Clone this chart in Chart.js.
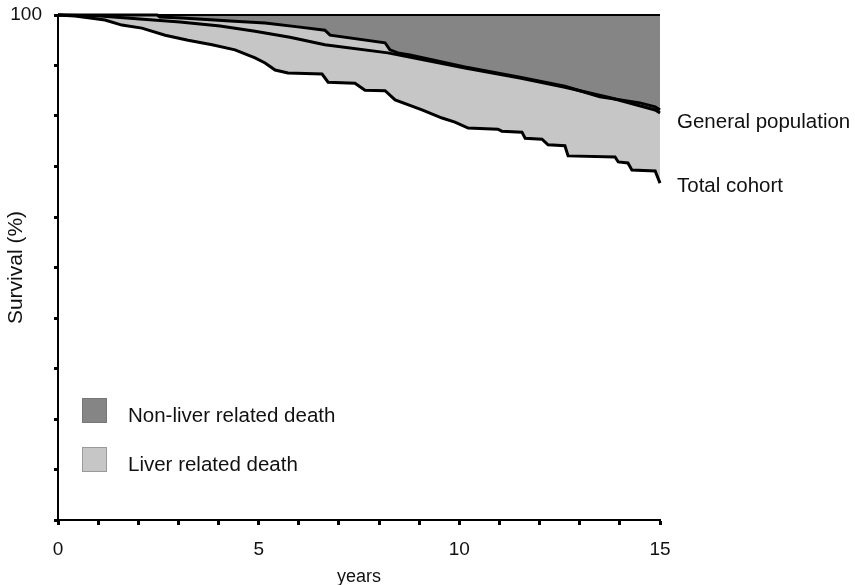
<!DOCTYPE html>
<html lang="en">
<head>
  <meta charset="UTF-8">
  <script src="https://cdn.jsdelivr.net/npm/chart.js@4"></script>
  <title>Survival</title>
  <style>
    html, body { margin: 0; padding: 0; background: #fff; }
    #wrap { width: 855px; height: 585px; }
  </style>
</head>
<body>
  <div id="wrap"><canvas id="chart" width="855" height="585"></canvas></div>
  <script>
    // years since diagnosis / survival (%)
    const nonLiverYears = [0, 2.47, 2.54, 3.09, 4.29, 5.16, 6.03, 6.65, 6.78, 8.15, 8.27, 8.47, 8.77, 10.14, 11.51, 12.63, 13.5, 14.5, 14.88, 15];
    const nonLiverSurv  = [100, 100, 99.6, 99.4, 98.8, 98.4, 97.6, 97.0, 96.0, 94.5, 93.1, 92.5, 92.1, 89.7, 87.7, 85.9, 83.8, 82.6, 81.8, 81.2];

    const genPopYears = [0, 1.05, 2.04, 3.04, 4.04, 4.91, 5.78, 6.65, 8.22, 10.14, 11.51, 12.63, 13.76, 14.88, 15];
    const genPopSurv  = [100, 99.8, 99.2, 98.6, 97.8, 96.8, 95.6, 94.1, 92.5, 89.5, 87.5, 85.7, 83.6, 81.2, 80.6];

    const cohortYears = [0, 0.42, 0.80, 1.17, 1.59, 2.09, 2.67, 3.24, 3.84, 4.41, 4.91, 5.16, 5.41, 5.73, 6.58, 6.73, 7.40, 7.65, 8.15, 8.40,
                         9.07, 9.57, 9.89, 10.22, 10.96, 11.06, 11.56, 11.64, 12.06, 12.21, 12.63, 12.71, 13.88, 13.96, 14.20, 14.30, 14.88, 15];
    const cohortSurv  = [100, 99.8, 99.4, 99.0, 98.0, 97.4, 96.0, 95.0, 94.1, 93.1, 91.5, 90.5, 89.1, 88.5, 88.3, 86.7, 86.5, 85.1, 85.0, 83.2,
                         81.2, 79.6, 78.8, 77.6, 77.4, 77.0, 76.8, 75.6, 75.4, 74.3, 74.1, 72.1, 71.9, 70.9, 70.7, 69.3, 69.1, 66.7];

    const legendItems = ['Non-liver related death', 'Liver related death'];
    const legendColors = ['#858585', '#c6c6c6'];

    const toPoints = (xs, ys) => xs.map((x, i) => ({ x: x, y: ys[i] }));
    const FONT = '"Liberation Sans", Arial, Helvetica, sans-serif';

    const overlay = {
      id: 'overlay',
      afterDatasetsDraw(chart) {
        const ctx = chart.ctx;
        const a = chart.chartArea;
        const xs = chart.scales.x, ys = chart.scales.y;
        ctx.save();
        // frame line at 100 %
        ctx.strokeStyle = '#000';
        ctx.lineWidth = 2;
        ctx.beginPath();
        ctx.moveTo(a.left, ys.getPixelForValue(100));
        ctx.lineTo(a.right, ys.getPixelForValue(100));
        ctx.stroke();

        // curve labels
        ctx.fillStyle = '#111';
        ctx.font = '20.5px ' + FONT;
        ctx.textAlign = 'left';
        ctx.textBaseline = 'alphabetic';
        const endX = xs.getPixelForValue(15) + 17;
        ctx.fillText('General population', endX, ys.getPixelForValue(genPopSurv[genPopSurv.length - 1]) + 15);
        ctx.fillText('Total cohort', endX, ys.getPixelForValue(cohortSurv[cohortSurv.length - 1]) + 9);

        // legend boxes
        const boxY = [398, 447];
        legendItems.forEach((txt, i) => {
          ctx.fillStyle = legendColors[i];
          ctx.fillRect(82, boxY[i], 25, 25);
          ctx.strokeStyle = i === 0 ? '#777' : '#9a9a9a';
          ctx.lineWidth = 1;
          ctx.strokeRect(82.5, boxY[i] + 0.5, 24, 24);
          ctx.fillStyle = '#111';
          ctx.fillText(txt, 128, boxY[i] + 24);
        });
        ctx.restore();
      }
    };

    const ctx = document.getElementById('chart').getContext('2d');
    new Chart(ctx, {
      type: 'line',
      data: {
        datasets: [
          {
            label: 'Non-liver related death',
            data: toPoints(nonLiverYears, nonLiverSurv),
            borderColor: '#000', borderWidth: 3,
            backgroundColor: legendColors[0],
            fill: 'end', pointRadius: 0, tension: 0, clip: 4
          },
          {
            label: 'General population',
            data: toPoints(genPopYears, genPopSurv),
            borderColor: '#000', borderWidth: 3,
            fill: false, pointRadius: 0, tension: 0, clip: 4
          },
          {
            label: 'Total cohort',
            data: toPoints(cohortYears, cohortSurv),
            borderColor: '#000', borderWidth: 3,
            backgroundColor: legendColors[1],
            fill: 0, pointRadius: 0, tension: 0, clip: 4
          }
        ]
      },
      options: {
        responsive: false,
        animation: false,
        layout: { padding: { top: 15, right: 195, left: 0, bottom: 0 } },
        plugins: {
          legend: { display: false },
          tooltip: { enabled: false },
          filler: { drawTime: 'beforeDatasetsDraw' }
        },
        scales: {
          x: {
            type: 'linear', min: 0, max: 15,
            border: { color: '#000', width: 2 },
            grid: { drawOnChartArea: false, tickLength: 5, tickWidth: 3, tickColor: '#000' },
            ticks: {
              stepSize: 1, autoSkip: false, maxRotation: 0, padding: 13,
              color: '#111', font: { family: FONT, size: 19 },
              callback: v => (v % 5 === 0 ? v : '')
            },
            title: { display: true, text: 'years', color: '#111', font: { family: FONT, size: 18 }, padding: { top: 0, bottom: -3 } },
            afterFit: s => { s.height = 65; s.paddingLeft = 0; s.paddingRight = 0; }
          },
          y: {
            min: 0, max: 100,
            border: { color: '#000', width: 2 },
            grid: { drawOnChartArea: false, tickLength: 4, tickWidth: 3, tickColor: '#000' },
            ticks: {
              stepSize: 10, padding: 12,
              color: '#111', font: { family: FONT, size: 19 },
              callback: v => (v === 100 ? '100' : '')
            },
            title: { display: true, text: 'Survival (%)', color: '#111', font: { family: FONT, size: 21 }, padding: { top: 4, bottom: 0 } },
            afterFit: s => { s.width = 58; s.paddingTop = 0; s.paddingBottom = 0; }
          }
        }
      },
      plugins: [overlay]
    });
  </script>
</body>
</html>
